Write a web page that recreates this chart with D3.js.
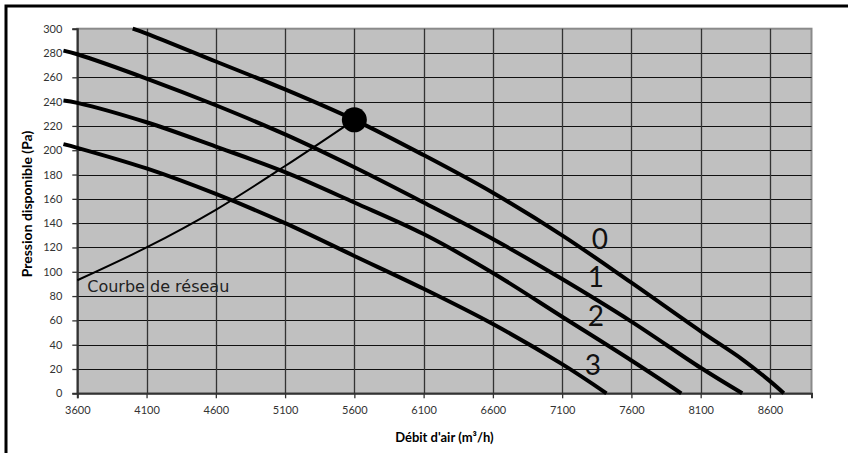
<!DOCTYPE HTML>
<html lang="fr">
<head>
    <meta charset="UTF-8">
    <title>Pression disponible</title>
    <script src="https://cdn.jsdelivr.net/npm/d3@7"></script>
    <style type="text/css">
        body { margin: 0; background: #fff; }
        text { font-family: Lato, "DejaVu Sans", sans-serif; }
        .tick text { font-size: 11px; fill: #333; }
        .titre { font-weight: bold; fill: #000; }
        .num { font-size: 28px; fill: #111; }
        .reseau { font-family: "DejaVu Sans", sans-serif; font-size: 16px; fill: #222; }
    </style>
</head>
<body>
<svg width="848" height="453"></svg>

<script type="text/javascript">
    // courbes des vitesses 0..3 (debit m3/h, pression Pa)
    var debit0 = [4000, 4100, 4600, 5100, 5600, 6100, 6600, 7100, 7600, 8100, 8400, 8600, 8700];
    var pression0 = [300, 296, 273, 250, 225, 196, 165, 130, 91, 51, 28, 10, 0];

    var debit1 = [3500, 3600, 4100, 4600, 5100, 5600, 6100, 6600, 7100, 7600, 8100, 8400];
    var pression1 = [282, 279, 259, 237, 213, 186, 157, 127, 94, 59, 21, 0];

    var debit2 = [3500, 3600, 4100, 4600, 5100, 5600, 6100, 6600, 7100, 7600, 7960];
    var pression2 = [241, 239, 223, 203, 182, 157, 131, 99, 63, 27, 0];

    var debit3 = [3500, 3600, 4100, 4600, 5100, 5600, 6100, 6600, 7100, 7420];
    var pression3 = [205, 202, 185, 164, 140, 113, 86, 57, 24, 0];

    // courbe de reseau
    var debitReseau = [3600, 4100, 4600, 5100, 5600];
    var pressionReseau = [93, 120, 151, 187, 225];

    // point de fonctionnement
    var debitPoint = [5600];
    var pressionPoint = [225];

    var xTicks = [3600, 4100, 4600, 5100, 5600, 6100, 6600, 7100, 7600, 8100, 8600];
    var yTicks = [0, 20, 40, 60, 80, 100, 120, 140, 160, 180, 200, 220, 240, 260, 280, 300];

    var vitesses = ["0", "1", "2", "3"];
    var labelDebit = [7373, 7344, 7344, 7322];
    var labelPression = [127, 96, 64, 23];

    (function () {
        var gauche = 77.3, droite = 811.5, haut = 28.7, bas = 393.3;

        var svg = d3.select("svg");

        var x = d3.scaleLinear().domain([3600, 8900]).range([gauche, droite]);
        var y = d3.scaleLinear().domain([0, 300]).range([bas, haut]);

        // cadre exterieur
        svg.append("rect")
            .attr("x", 6).attr("y", 6)
            .attr("width", 860).attr("height", 470)
            .attr("fill", "none")
            .attr("stroke", "#000")
            .attr("stroke-width", 3);

        // zone de trace
        svg.append("rect")
            .attr("x", gauche).attr("y", haut)
            .attr("width", droite - gauche).attr("height", bas - haut)
            .attr("fill", "#c0c0c0")
            .attr("stroke", "#8a8a8a")
            .attr("stroke-width", 2);

        // grille
        svg.append("g").selectAll("line")
            .data(yTicks.slice(1, -1))
            .enter().append("line")
            .attr("x1", gauche).attr("x2", droite)
            .attr("y1", function (d) { return Math.round(y(d)) + 0.5; })
            .attr("y2", function (d) { return Math.round(y(d)) + 0.5; })
            .attr("stroke", "#111")
            .attr("stroke-width", 1.2);

        svg.append("g").selectAll("line")
            .data(xTicks.slice(1))
            .enter().append("line")
            .attr("x1", function (d) { return Math.round(x(d)) + 0.5; })
            .attr("x2", function (d) { return Math.round(x(d)) + 0.5; })
            .attr("y1", haut).attr("y2", bas)
            .attr("stroke", "#333")
            .attr("stroke-width", 1.3);

        // axes
        var xAxis = svg.append("g")
            .attr("transform", "translate(0," + bas + ")")
            .call(d3.axisBottom(x).tickValues(xTicks).tickSize(5).tickPadding(8).tickFormat(d3.format("d")));
        var yAxis = svg.append("g")
            .attr("transform", "translate(" + gauche + ",0)")
            .call(d3.axisLeft(y).tickValues(yTicks).tickSize(5).tickPadding(10));
        [xAxis, yAxis].forEach(function (a) {
            a.select(".domain").attr("stroke", "#333").attr("stroke-width", 2);
            a.selectAll(".tick line").attr("stroke", "#333").attr("stroke-width", 1.3);
        });

        svg.append("text")
            .attr("class", "titre")
            .attr("font-size", "13px")
            .attr("x", (gauche + droite) / 2).attr("y", 442)
            .attr("text-anchor", "middle")
            .text("Débit d'air (m³/h)");

        svg.append("text")
            .attr("class", "titre")
            .attr("font-size", "14px")
            .attr("transform", "translate(32,204) rotate(-90)")
            .attr("text-anchor", "middle")
            .text("Pression disponible (Pa)");

        var line = d3.line()
            .x(function (d) { return x(d[0]); })
            .y(function (d) { return y(d[1]); })
            .curve(d3.curveCatmullRom.alpha(0.5));

        var courbes = [
            d3.zip(debit0, pression0),
            d3.zip(debit1, pression1),
            d3.zip(debit2, pression2),
            d3.zip(debit3, pression3)
        ];

        // courbe de reseau (fine)
        svg.append("path")
            .attr("d", line(d3.zip(debitReseau, pressionReseau)))
            .attr("fill", "none")
            .attr("stroke", "#000")
            .attr("stroke-width", 2);

        svg.append("g").selectAll("path")
            .data(courbes)
            .enter().append("path")
            .attr("d", line)
            .attr("fill", "none")
            .attr("stroke", "#000")
            .attr("stroke-width", 4);

        svg.append("g").selectAll("circle")
            .data(d3.zip(debitPoint, pressionPoint))
            .enter().append("circle")
            .attr("cx", function (d) { return x(d[0]); })
            .attr("cy", function (d) { return y(d[1]); })
            .attr("r", 12.5)
            .attr("fill", "#000");

        svg.append("g").selectAll("text")
            .data(vitesses)
            .enter().append("text")
            .attr("class", "num")
            .attr("x", function (d, i) { return x(labelDebit[i]); })
            .attr("y", function (d, i) { return y(labelPression[i]); })
            .attr("text-anchor", "middle")
            .attr("dy", "0.36em")
            .text(function (d) { return d; });

        svg.append("text")
            .attr("class", "reseau")
            .attr("x", x(3672)).attr("y", y(83.6))
            .text("Courbe de réseau");
    })();
</script>
</body>
</html>
